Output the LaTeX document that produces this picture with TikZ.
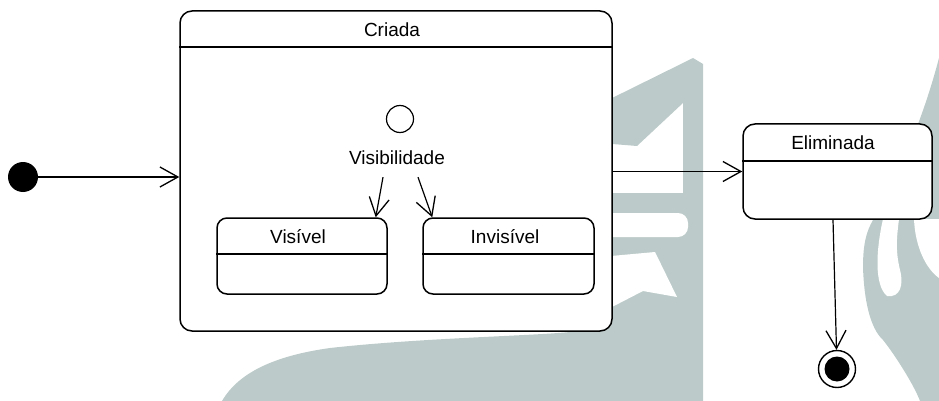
\documentclass[tikz,border=0pt]{standalone}
\usepackage{fontspec}
\setmainfont{Liberation Sans}
\usetikzlibrary{arrows.meta}

\definecolor{marca}{RGB}{188,203,201}

\tikzset{
  state/.style={draw, fill=white, rounded corners=12pt, line width=1.5pt, inner sep=0pt},
  substate/.style={state, rounded corners=10pt},
  rotulo/.style={font=\fontsize{19}{22}\selectfont, inner sep=0pt},
  trans/.style={line width=1.2pt, -{Straight Barb[length=18pt,width=20pt,line width=1.3pt]}},
  divisor/.style={line width=1.5pt},
}

\begin{document}
\begin{tikzpicture}[x=1pt,y=-1pt]
\useasboundingbox (0,0) rectangle (939,401);
% marca d'agua
\fill[marca] (600,104) -- (693,58) -- (703,64) -- (703,401) -- (222,401)
  .. controls (240,370) and (280,355) .. (330,348)
  .. controls (420,338) and (530,336) .. (570,332) -- (600,318) -- (600,193)
  -- (683,193) -- (683,103) -- (637,146) -- (600,143) -- cycle;
\fill[white, rounded corners=10pt] (600,213) -- (688,213) -- (688,237) -- (600,237) -- cycle;
\fill[white] (600,257) -- (655,252) -- (677,297) -- (643,291) -- (612,307) -- (600,310) -- cycle;
\fill[marca] (939,58) -- (939,401) -- (920,401)
  .. controls (914,385) and (895,355) .. (883,340)
  .. controls (870,328) and (864,300) .. (863,267)
  .. controls (863,245) and (866,232) .. (873,220)
  .. controls (895,180) and (920,130) .. (939,58) -- cycle;
\fill[white] (883,219) .. controls (876,250) and (874,285) .. (887,296)
  .. controls (900,298) and (904,285) .. (900,270)
  .. controls (895,250) and (897,235) .. (899,219) -- cycle;
\fill[white] (914,219) .. controls (915,245) and (925,268) .. (939,278) -- (939,219) -- cycle;

% estados
\node[state, minimum width=432, minimum height=320] (criada) at (396,171) {};
\node[rotulo] (criada-t) at (392,30) {Criada};
\draw[divisor] (criada.west |- 0,47) -- (criada.east |- 0,47);

\node[draw, circle, fill=white, line width=1.2pt, minimum size=27, inner sep=0pt] (escolha) at (400,119) {};
\node[rotulo] (visib) at (397,158) {Visibilidade};

\node[substate, minimum width=170, minimum height=76] (visivel) at (302,256) {};
\node[rotulo] (visivel-t) at (298,237) {Visível};
\draw[divisor] (visivel.west |- 0,254) -- (visivel.east |- 0,254);

\node[substate, minimum width=171, minimum height=76] (invisivel) at (508.5,256) {};
\node[rotulo] (invisivel-t) at (505,237) {Invisível};
\draw[divisor] (invisivel.west |- 0,254) -- (invisivel.east |- 0,254);

\node[state, minimum width=189, minimum height=95] (elim) at (837.5,171.5) {};
\node[rotulo] (elim-t) at (833,143) {Eliminada};
\draw[divisor] (elim.west |- 0,161) -- (elim.east |- 0,161);

\node[circle, fill=black, minimum size=30, inner sep=0pt] (inicio) at (23,177) {};
\node[circle, draw, fill=white, line width=1.4pt, minimum size=37, inner sep=0pt] (fim) at (837,369) {};
\node[circle, fill=black, minimum size=25, inner sep=0pt] (fim-c) at (fim) {};

% transicoes
\draw[trans] (inicio) -- (inicio -| criada.west);
\draw[trans] ([shift={(-14,12)}]visib.south) -- ([xshift=-12pt]visivel.north east);
\draw[trans] ([shift={(21,12)}]visib.south) -- ([xshift=10pt]invisivel.north west);
\draw[trans] (criada.east |- elim) -- (elim);
\draw[trans] ([xshift=-4.5pt]elim.south) -- (fim);
\end{tikzpicture}
\end{document}
